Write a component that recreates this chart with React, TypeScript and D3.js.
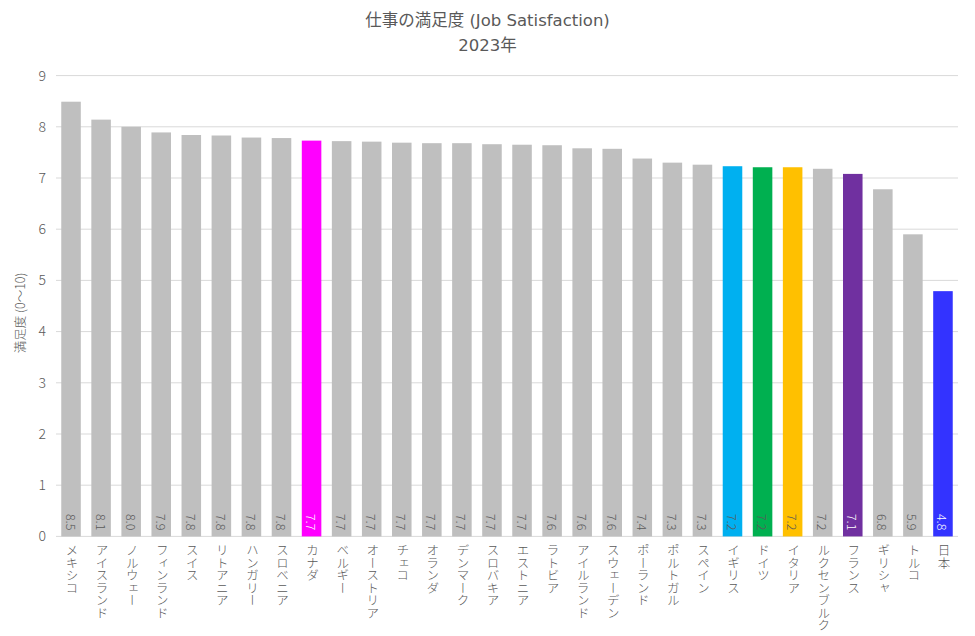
import * as d3 from "d3";
import { useEffect, useRef } from "react";

const countries = [
  "メキシコ", "アイスランド", "ノルウェー", "フィンランド", "スイス", "リトアニア",
  "ハンガリー", "スロベニア", "カナダ", "ベルギー", "オーストリア", "チェコ",
  "オランダ", "デンマーク", "スロバキア", "エストニア", "ラトビア", "アイルランド",
  "スウェーデン", "ポーランド", "ポルトガル", "スペイン", "イギリス", "ドイツ",
  "イタリア", "ルクセンブルク", "フランス", "ギリシャ", "トルコ", "日本",
];

const satisfaction = [
  8.49, 8.14, 8.0, 7.89, 7.84, 7.83, 7.79, 7.78, 7.73, 7.72, 7.71, 7.69,
  7.68, 7.68, 7.66, 7.65, 7.64, 7.58, 7.57, 7.38, 7.3, 7.26, 7.23, 7.21,
  7.21, 7.18, 7.08, 6.78, 5.9, 4.79,
];

const yTicks = [0, 1, 2, 3, 4, 5, 6, 7, 8, 9];

// highlighted countries
const highlight: Record<string, string> = {
  カナダ: "#ff00ff",
  イギリス: "#00b0f0",
  ドイツ: "#00b050",
  イタリア: "#ffc000",
  フランス: "#7030a0",
  日本: "#3333ff",
};
const whiteLabels = ["カナダ", "フランス", "日本"];

const width = 975;
const height = 636;
const font = "'Noto Sans CJK JP', 'Noto Sans', sans-serif";
const titleFont = "'DejaVu Sans', 'Noto Sans CJK JP', sans-serif";
const textColor = "#595959";

export default function App() {
  const svgRef = useRef<SVGSVGElement>(null);

  useEffect(() => {
    if (!svgRef.current) return;
    const svg = d3.select(svgRef.current);
    svg.selectAll("*").remove();

    const margin = { top: 75.6, right: 17, bottom: 99.6, left: 56 };
    const innerWidth = width - margin.left - margin.right;
    const innerHeight = height - margin.top - margin.bottom;

    const g = svg
      .append("g")
      .attr("transform", `translate(${margin.left},${margin.top})`);

    const data = countries.map((c, i) => ({ name: c, value: satisfaction[i] }));

    const xScale = d3
      .scaleBand()
      .domain(countries)
      .range([0, innerWidth])
      .paddingInner(0.35)
      .paddingOuter(0.175);

    const yScale = d3.scaleLinear().domain([0, 9]).range([innerHeight, 0]);

    // Grid lines
    g.append("g")
      .selectAll("line")
      .data(yTicks)
      .enter()
      .append("line")
      .attr("x1", 0)
      .attr("x2", innerWidth)
      .attr("y1", (d) => yScale(d))
      .attr("y2", (d) => yScale(d))
      .style("stroke", "#d9d9d9")
      .style("stroke-width", 1);

    // Y tick labels
    g.append("g")
      .selectAll("text")
      .data(yTicks)
      .enter()
      .append("text")
      .attr("x", -10)
      .attr("y", (d) => yScale(d))
      .attr("dy", "0.35em")
      .attr("text-anchor", "end")
      .style("font-family", font)
      .style("font-size", "14px")
      .style("font-weight", 300)
      .style("fill", textColor)
      .text((d) => d);

    // Bars
    g.selectAll(".bar")
      .data(data)
      .enter()
      .append("rect")
      .attr("class", "bar")
      .attr("x", (d) => xScale(d.name)!)
      .attr("y", (d) => yScale(d.value))
      .attr("width", xScale.bandwidth())
      .attr("height", (d) => innerHeight - yScale(d.value))
      .style("fill", (d) => highlight[d.name] ?? "#bfbfbf");

    // Value labels (rotated)
    g.selectAll(".value")
      .data(data)
      .enter()
      .append("text")
      .attr("class", "value")
      .attr(
        "transform",
        (d) =>
          `translate(${xScale(d.name)! + xScale.bandwidth() / 2},${innerHeight - 6}) rotate(90)`,
      )
      .attr("text-anchor", "end")
      .attr("dominant-baseline", "central")
      .style("font-family", font)
      .style("font-size", "12.5px")
      .style("font-weight", 300)
      .style("fill", (d) => (whiteLabels.includes(d.name) ? "#ffffff" : textColor))
      .text((d) => d3.format(".1f")(d.value));

    // Category labels (vertical writing)
    g.selectAll(".cat")
      .data(countries)
      .enter()
      .append("text")
      .attr("class", "cat")
      .attr("x", (d) => xScale(d)! + xScale.bandwidth() / 2 + 1)
      .attr("y", innerHeight + 8)
      .style("writing-mode", "vertical-rl")
      .style("font-family", font)
      .style("font-size", "12.5px")
      .style("font-weight", 300)
      .style("fill", textColor)
      .text((d) => d);

    // Title
    svg
      .append("text")
      .attr("x", width / 2)
      .attr("y", 26)
      .attr("text-anchor", "middle")
      .style("font-family", titleFont)
      .style("font-size", "16.5px")
      .style("fill", textColor)
      .text("仕事の満足度 (Job Satisfaction)");

    svg
      .append("text")
      .attr("x", width / 2)
      .attr("y", 51)
      .attr("text-anchor", "middle")
      .style("font-family", titleFont)
      .style("font-size", "16.5px")
      .style("fill", textColor)
      .text("2023年");

    // Y axis label
    svg
      .append("text")
      .attr("transform", `translate(19,${margin.top + innerHeight * 0.515}) rotate(-90)`)
      .attr("text-anchor", "middle")
      .attr("dominant-baseline", "central")
      .style("font-family", font)
      .style("font-size", "12.5px")
      .style("font-weight", 300)
      .style("fill", textColor)
      .text("満足度 (0〜10)");
  }, []);

  return (
    <svg
      ref={svgRef}
      width={width}
      height={height}
      style={{ position: "absolute", left: 0, top: 0, background: "#ffffff" }}
    />
  );
}
